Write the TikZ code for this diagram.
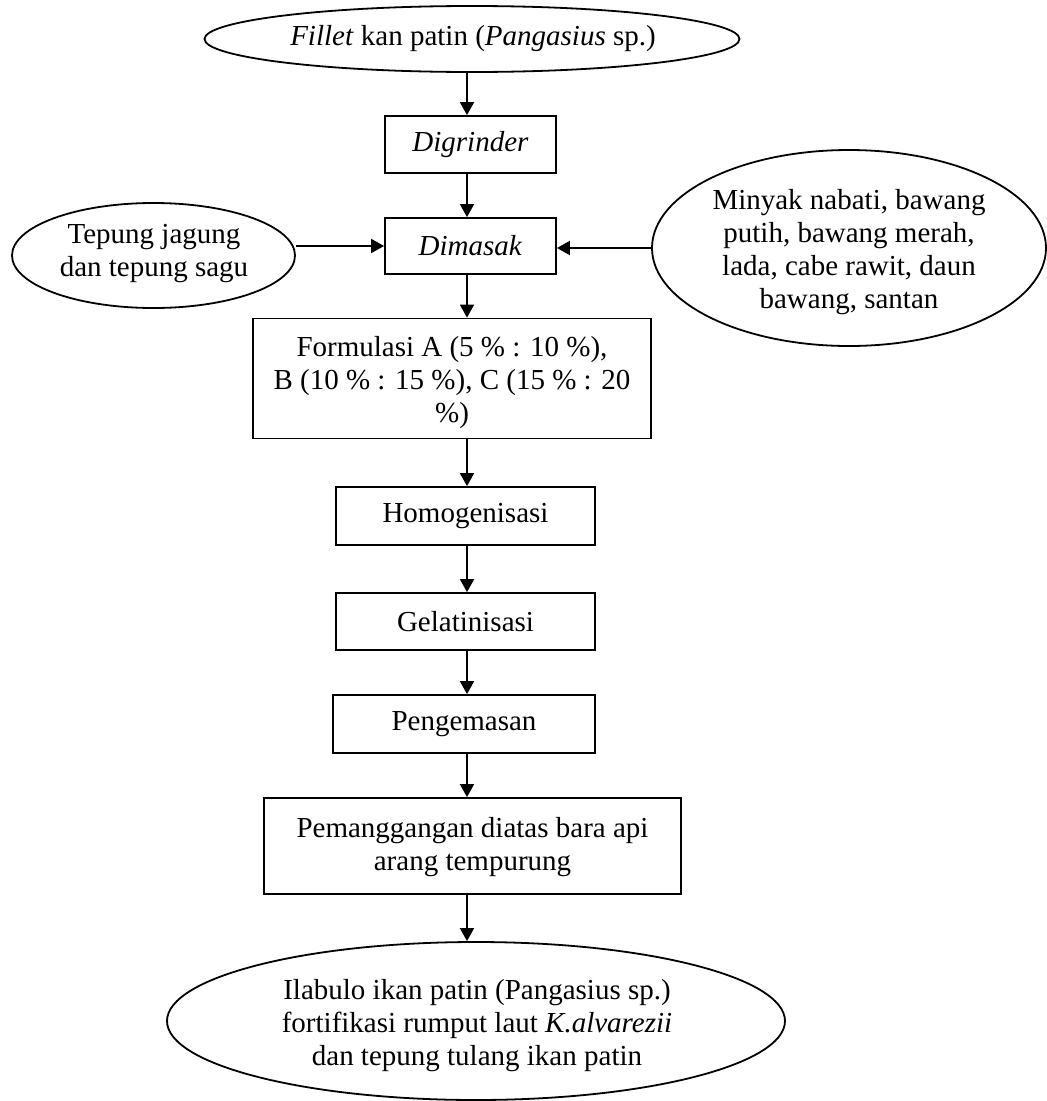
\documentclass[tikz,border=0pt]{standalone}
\usepackage{fontspec}
\setmainfont{Liberation Serif}
\usetikzlibrary{shapes.geometric,arrows.meta}
\begin{document}
\begin{tikzpicture}[x=1pt,y=-1pt,
  every node/.style={font=\fontsize{29}{33}\selectfont},
  box/.style={draw, line width=1.8pt, rectangle, inner sep=0pt, align=center},
  ell/.style={draw, line width=1.8pt, ellipse, inner sep=0pt},
  txt/.style={align=center, inner sep=0pt},
  arr/.style={line width=1.8pt, -{Triangle[length=13pt,width=14pt]}}]
\useasboundingbox (0,0) rectangle (1047,1101);
\coordinate (ax) at (467,0);

% ellipses
\node[ell, minimum width=535pt, minimum height=66pt] (top) at (472,39) {};
\node[txt] (toptxt) at (473,39) {\textit{Fillet} kan patin (\textit{Pangasius} sp.)};

\node[ell, minimum width=283pt, minimum height=105pt] (lft) at (153.5,255.5) {};
\node[txt] (lfttxt) at (154,254) {Tepung jagung\\dan tepung sagu};

\node[ell, minimum width=394pt, minimum height=196pt] (rgt) at (849,248) {};
\node[txt] (rgttxt) at (849,252) {Minyak nabati, bawang\\putih, bawang merah,\\lada, cabe rawit, daun\\bawang, santan};

\node[ell, minimum width=618pt, minimum height=158pt] (bot) at (476,1021) {};
\node[txt] (bottxt) at (477,1026) {Ilabulo ikan patin (Pangasius sp.)\\fortifikasi rumput laut \textit{K.alvarezii}\\dan tepung tulang ikan patin};

% boxes
\node[box, minimum width=171pt, minimum height=57pt] (dig) at (470.5,144.5) {\textit{Digrinder}};
\node[box, minimum width=171pt, minimum height=56pt] (mas) at (470.5,246) {\textit{Dimasak}};
\node[box, minimum width=398pt, minimum height=120pt] (form) at (452,378.5) {};
\node[txt] (formtxt) at (452,383) {Formulasi A (5 \% : 10 \%),\\B (10 \% : 15 \%), C (15 \% : 20\\\%)};
\node[box, minimum width=259pt, minimum height=58pt] (hom) at (465.5,516) {Homogenisasi};
\node[box, minimum width=259pt, minimum height=57pt] (gel) at (465.5,621.5) {Gelatinisasi};
\node[box, minimum width=262pt, minimum height=58pt] (pen) at (464,724) {Pengemasan};
\node[box, minimum width=417pt, minimum height=96pt] (pem) at (472.5,846) {};
\node[txt] (pemtxt) at (472.5,847) {Pemanggangan diatas bara api\\arang tempurung};

% connectors
\draw[arr] (top.south -| ax) -- (dig.north -| ax);
\draw[arr] (dig.south -| ax) -- (mas.north -| ax);
\draw[arr] (lft.east |- mas.west) -- (mas.west);
\draw[arr] (rgt.west) -- (rgt.west -| mas.east);
\draw[arr] (mas.south -| ax) -- (form.north -| ax);
\draw[arr] (form.south -| ax) -- (hom.north -| ax);
\draw[arr] (hom.south -| ax) -- (gel.north -| ax);
\draw[arr] (gel.south -| ax) -- (pen.north -| ax);
\draw[arr] (pen.south -| ax) -- (pem.north -| ax);
\draw[arr] (pem.south -| ax) -- (bot.north -| ax);
\end{tikzpicture}
\end{document}
